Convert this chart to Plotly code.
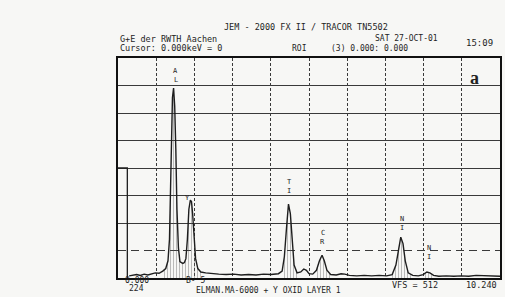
import plotly.graph_objects as go

# ---------------- data ----------------
energy_kev = [0.30, 0.40, 0.50, 0.60, 0.70, 0.80, 0.90, 1.00, 1.10, 1.20, 1.28, 1.34, 1.38,
              1.42, 1.46, 1.49, 1.52, 1.55, 1.58, 1.62, 1.66, 1.70, 1.74, 1.78, 1.82, 1.86,
              1.90, 1.94, 1.97, 2.00, 2.04, 2.08, 2.14, 2.22, 2.35, 2.50, 2.70, 2.90, 3.10,
              3.30, 3.50, 3.70, 3.90, 4.10, 4.30, 4.40, 4.46, 4.52, 4.57, 4.62, 4.67, 4.72,
              4.80, 4.90, 4.98, 5.05, 5.12, 5.22, 5.32, 5.40, 5.47, 5.53, 5.60, 5.70, 5.85,
              5.98, 6.08, 6.20, 6.40, 6.60, 6.80, 7.00, 7.20, 7.35, 7.45, 7.52, 7.58, 7.64,
              7.70, 7.78, 7.90, 8.05, 8.18, 8.28, 8.36, 8.46, 8.60, 8.80, 9.00, 9.20, 9.40,
              9.60, 9.80, 10.00, 10.24]
counts = [5, 6, 8, 6, 9, 7, 10, 12, 11, 16, 22, 40, 90,
          250, 420, 442, 400, 300, 160, 70, 38, 36, 34, 36, 45, 90,
          160, 181, 178, 150, 90, 45, 22, 14, 12, 10, 9, 8, 9,
          7, 8, 7, 9, 8, 10, 16, 50, 120, 172, 150, 80, 30,
          12, 14, 21, 18, 10, 9, 18, 40, 53, 40, 18, 8, 7,
          10, 9, 6, 5, 6, 5, 6, 5, 8, 30, 70, 95, 80,
          40, 12, 6, 5, 8, 14, 12, 6, 4, 5, 4, 5, 4,
          6, 5, 4, 4]

marker_kev = [0.0, 0.25, 0.25]
marker_counts = [256, 256, 0]

roi_ranges_kev = [(1.20, 2.22), (4.40, 4.80), (5.32, 5.70), (7.35, 7.90), (8.18, 8.46)]

peak_labels = ["A<br>L", "Y", "T<br>I", "C<br>R", "N<br>I", "N<br>I"]
peak_label_kev = [1.55, 1.86, 4.59, 5.49, 7.60, 8.35]
peak_label_counts = [472, 186, 212, 95, 126, 60]

full_scale = 512
x_max_kev = 10.24
div_kev = 1.024
div_counts = 64

title_text = "JEM - 2000 FX II / TRACOR TN5502"
header_left = ["G+E der RWTH Aachen", "Cursor: 0.000keV = 0"]
roi_text = ["ROI", "(3) 0.000: 0.000"]
date_text = "SAT 27-OCT-01"
time_text = "15:09"
footer_texts = ["0.000", "224", "B- 5", "ELMAN.MA-6000 + Y OXID LAYER 1", "VFS = 512", "10.240"]
panel_label = "a"

# ---------------- figure ----------------
W, H = 505, 297
L, R, T, B = 118, 3, 58, 19
pw, ph = W - L - R, H - T - B

def px(x):
    return (x - L) / pw

def py(y):
    return (H - B - y) / ph

fig = go.Figure()

ink = "#1e1e1e"
mono = "DejaVu Sans Mono, Liberation Mono, monospace"

# ROI hatching under peaks
for lo, hi in roi_ranges_kev:
    xs = [e for e in energy_kev if lo <= e <= hi]
    ys = [c for e, c in zip(energy_kev, counts) if lo <= e <= hi]
    fig.add_trace(go.Scatter(
        x=xs, y=ys, mode="lines", line=dict(width=0, color=ink),
        fill="tozeroy", fillcolor="rgba(0,0,0,0)",
        fillpattern=dict(shape="|", size=3, solidity=0.25, fgcolor="#555",
                         bgcolor="rgba(0,0,0,0)"),
        hoverinfo="skip", showlegend=False))

fig.add_trace(go.Scatter(x=marker_kev, y=marker_counts, mode="lines",
                         line=dict(color=ink, width=1.3), showlegend=False))
fig.add_trace(go.Scatter(x=energy_kev, y=counts, mode="lines",
                         line=dict(color=ink, width=1.4), showlegend=False))

ann = []

# stacked peak labels (tight line spacing, like the printer output)
for lab, xk, yc in zip(peak_labels, peak_label_kev, peak_label_counts):
    parts = lab.split("<br>")
    n = len(parts)
    for j, ch in enumerate(parts):
        ann.append(dict(x=xk, y=yc, xref="x", yref="y", text=ch, showarrow=False,
                        xanchor="center", yanchor="middle",
                        yshift=(n - 1) * 4.5 - j * 9,
                        font=dict(family=mono, size=7, color="#1e1e1e")))

def add(text, x, y, size=9, anchor="left", family=mono, color=ink):
    ann.append(dict(x=px(x), y=py(y), xref="paper", yref="paper", text=text,
                    showarrow=False, xanchor=anchor, yanchor="middle",
                    font=dict(family=family, size=size, color=color)))

add(title_text, 307, 27, size=8.5, anchor="center")
add(header_left[0], 118, 38.5, size=8.5)
add(header_left[1], 118, 47.5, size=8.5)
add(roi_text[0], 300, 48, size=8, anchor="center")
add(roi_text[1], 330, 48, size=8)
add(date_text, 374, 38, size=8)
add(time_text, 466, 43, size=9)
add(footer_texts[0], 137, 280, size=8, anchor="center")
add(footer_texts[1], 137, 288, size=8, anchor="center")
add(footer_texts[2], 196, 280, size=8, anchor="center")
add(footer_texts[3], 269, 290, size=8, anchor="center")
add(footer_texts[4], 417, 285, size=8.5, anchor="center")
add(footer_texts[5], 483, 285, size=8.5, anchor="center")
add("<b>" + panel_label + "</b>", 476, 78, size=18, anchor="center",
    family="Liberation Serif, Times New Roman, serif", color="#222")

fig.update_layout(
    width=W, height=H,
    margin=dict(l=L, r=R, t=T, b=B),
    paper_bgcolor="#f7f7f5", plot_bgcolor="#f7f7f5",
    showlegend=False,
    annotations=ann,
    xaxis=dict(range=[0, x_max_kev], tick0=0, dtick=div_kev, showticklabels=False,
               ticks="", showgrid=True, gridcolor="#3a3a3a", gridwidth=1, griddash="3px,2px",
               zeroline=False, showline=True, linecolor="#111", linewidth=2, mirror=True),
    yaxis=dict(range=[0, full_scale], tickmode="array",
               tickvals=[div_counts * k for k in range(2, 8)], showticklabels=False,
               ticks="", showgrid=True, gridcolor="#3a3a3a", gridwidth=1,
               minor=dict(tickmode="array", tickvals=[div_counts], showgrid=True,
                          gridcolor="#3a3a3a", gridwidth=1, griddash="8px,5px"),
               zeroline=False, showline=True, linecolor="#111", linewidth=2, mirror=True),
)

fig.write_html("out.html",
               config={"displayModeBar": False, "staticPlot": True},
               post_script="document.body.style.margin='0';"
                           "document.body.style.overflow='hidden';"
                           "document.body.style.background='#f7f7f5';")
